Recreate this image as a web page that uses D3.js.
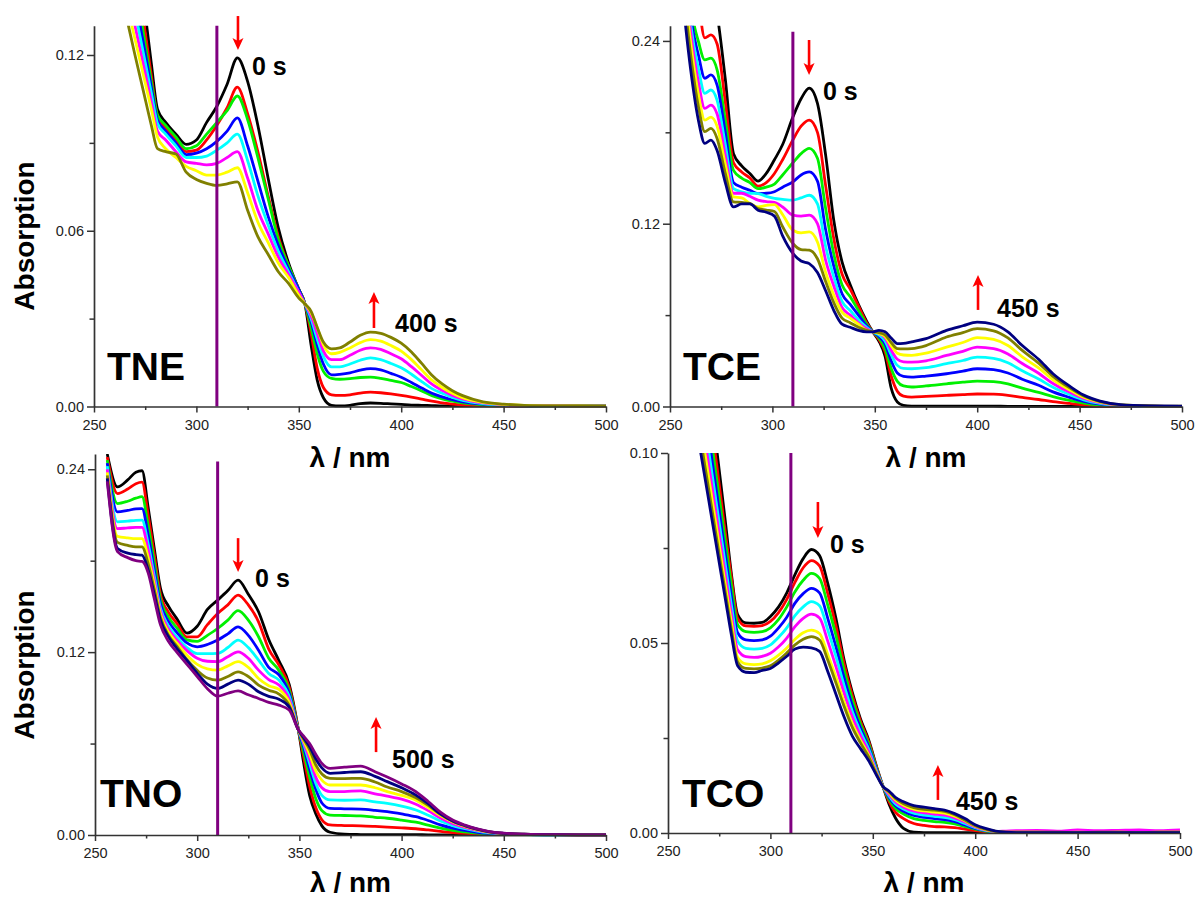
<!DOCTYPE html>
<html><head><meta charset="utf-8">
<script src="https://cdn.jsdelivr.net/npm/d3@7"></script>
<style>
html,body{margin:0;padding:0;background:#fff;}
svg{display:block;font-family:"Liberation Sans",Arial,Helvetica,sans-serif;}
</style></head><body>
<svg id="chart" width="1196" height="900"></svg>
<script>
// ---------------- DATA ----------------
const sampleNames = ["TNE", "TCE", "TNO", "TCO"];
const startLabels = ["0 s", "0 s", "0 s", "0 s"];
const endLabels = ["400 s", "450 s", "500 s", "450 s"];
const xMajorTicks = [250, 300, 350, 400, 450, 500];
const xMinorTicks = [275, 325, 375, 425, 475];
const irradiationNm = 310;

// TNE
const tneNm = [258,262,266,270,274,278,281,285,290,295,300,305,310,315,320,325,330,335,340,345,350,353,356,359,362,366,370,375,380,385,390,395,400,405,410,415,420,425,430,440,450,460,480,500];
const tneCurves = [
 [0.25,0.22,0.19,0.163,0.14,0.117,0.1015,0.097,0.093,0.0895,0.091,0.097,0.1025,0.110,0.119,0.111,0.096,0.078,0.061,0.049,0.040,0.035,0.021,0.009,0.003,0.0004,0.0002,0.0004,0.001,0.0012,0.0011,0.0009,0.0007,0.0005,0.0004,0.0003,0.0002,0.0002,0.0002,0.0002,0.0002,0.0002,0.0002,0.0002],
 [0.21,0.19,0.172,0.152,0.1325,0.113,0.099,0.095,0.091,0.087,0.0875,0.091,0.096,0.102,0.109,0.100,0.087,0.072,0.058,0.048,0.040,0.035,0.025,0.013,0.0065,0.004,0.0038,0.004,0.0046,0.0049,0.0047,0.0043,0.0038,0.0032,0.0025,0.0018,0.0012,0.0008,0.0005,0.0003,0.0002,0.0001,0.0001,0.0001],
 [0.20,0.18,0.162,0.145,0.128,0.111,0.0995,0.096,0.092,0.088,0.089,0.093,0.097,0.101,0.106,0.098,0.085,0.071,0.057,0.048,0.040,0.035,0.027,0.018,0.012,0.0096,0.0093,0.0095,0.0099,0.0100,0.0096,0.0089,0.0082,0.0068,0.0053,0.0037,0.0026,0.0018,0.0012,0.0006,0.0003,0.0002,0.0001,0.0001],
 [0.188,0.171,0.155,0.1395,0.1245,0.109,0.0978,0.094,0.090,0.086,0.0865,0.088,0.0905,0.094,0.0985,0.089,0.077,0.065,0.055,0.047,0.040,0.035,0.029,0.021,0.0145,0.0108,0.011,0.0115,0.0124,0.0129,0.0125,0.0113,0.0100,0.0082,0.0063,0.0045,0.0033,0.0023,0.0016,0.0008,0.0004,0.0002,0.0001,0.0001],
 [0.18,0.164,0.149,0.135,0.121,0.107,0.0966,0.093,0.089,0.085,0.085,0.0855,0.0875,0.090,0.093,0.084,0.072,0.062,0.053,0.046,0.039,0.035,0.030,0.023,0.017,0.0135,0.0135,0.0145,0.0158,0.0166,0.016,0.0147,0.0132,0.011,0.0085,0.0061,0.0045,0.0031,0.0021,0.001,0.0005,0.0003,0.0001,0.0001],
 [0.172,0.157,0.143,0.13,0.117,0.104,0.094,0.091,0.087,0.0835,0.083,0.0825,0.083,0.085,0.087,0.078,0.067,0.059,0.051,0.045,0.039,0.035,0.031,0.025,0.019,0.016,0.016,0.0175,0.0192,0.020,0.0195,0.018,0.0163,0.0136,0.0106,0.0076,0.0055,0.0038,0.0026,0.0012,0.0006,0.0003,0.0002,0.0001],
 [0.163,0.15,0.1375,0.1255,0.1135,0.1015,0.092,0.088,0.085,0.082,0.0805,0.079,0.079,0.080,0.0815,0.073,0.063,0.056,0.049,0.044,0.038,0.035,0.032,0.027,0.021,0.018,0.0185,0.020,0.0218,0.0228,0.0223,0.0208,0.0189,0.016,0.0125,0.009,0.0065,0.0045,0.003,0.0014,0.0007,0.0004,0.0002,0.0001],
 [0.158,0.145,0.1325,0.120,0.108,0.096,0.088,0.087,0.0862,0.080,0.0775,0.0762,0.0755,0.076,0.0767,0.067,0.058,0.052,0.046,0.042,0.037,0.035,0.0325,0.027,0.022,0.0197,0.020,0.022,0.0243,0.0254,0.025,0.0236,0.0216,0.0186,0.0147,0.0107,0.0077,0.0054,0.0037,0.0016,0.0008,0.0004,0.0002,0.0001]
];
const tneYTicks = [0, 0.06, 0.12];
const tneYMinor = [0.03, 0.09];

// TCE
const tceNm = [256,260,264,267,270,273,277,281,285,289,293,297,301,305,310,314,318,322,326,330,334,338,342,346,349,352,355,358,361,364,368,375,385,393,400,408,415,422,430,437,445,452,460,470,485,500];
const tceCurves = [
 [0.45,0.40,0.35,0.31,0.28,0.258,0.215,0.166,0.158,0.153,0.148,0.153,0.162,0.172,0.190,0.202,0.209,0.199,0.165,0.122,0.095,0.080,0.067,0.056,0.049,0.043,0.033,0.012,0.003,0.0008,0.0003,0.0002,0.0002,0.0002,0.0002,0.0002,0.0001,0.0001,0.0001,0.0001,0.0001,0.0001,0.0001,0.0001,0.0001,0.0001],
 [0.38,0.31,0.265,0.242,0.244,0.238,0.200,0.160,0.154,0.150,0.1447,0.147,0.153,0.162,0.175,0.184,0.188,0.180,0.145,0.110,0.087,0.077,0.066,0.055,0.049,0.044,0.036,0.020,0.010,0.0068,0.0062,0.0066,0.0073,0.0078,0.0082,0.0081,0.0073,0.006,0.0046,0.0032,0.002,0.0011,0.0005,0.0002,0.0001,0.0001],
 [0.33,0.265,0.239,0.2275,0.2287,0.221,0.188,0.155,0.150,0.147,0.143,0.144,0.146,0.152,0.160,0.166,0.1695,0.163,0.130,0.100,0.080,0.072,0.063,0.054,0.049,0.045,0.038,0.025,0.0165,0.0135,0.0128,0.0135,0.0149,0.016,0.0167,0.0163,0.0148,0.012,0.0093,0.0065,0.004,0.0023,0.001,0.0004,0.0001,0.0001],
 [0.32,0.258,0.230,0.2155,0.2177,0.211,0.180,0.147,0.144,0.142,0.1398,0.140,0.141,0.144,0.1475,0.152,0.154,0.148,0.116,0.092,0.074,0.067,0.060,0.053,0.049,0.046,0.041,0.030,0.022,0.0198,0.0193,0.020,0.0215,0.0232,0.0248,0.0242,0.022,0.0179,0.0139,0.0096,0.006,0.0034,0.0016,0.0005,0.0002,0.0001],
 [0.31,0.252,0.221,0.2056,0.2078,0.201,0.172,0.143,0.141,0.140,0.1398,0.138,0.1366,0.136,0.1355,0.137,0.1387,0.133,0.105,0.085,0.069,0.063,0.057,0.052,0.049,0.047,0.043,0.034,0.027,0.025,0.0248,0.0255,0.0281,0.0302,0.0324,0.0316,0.0287,0.0234,0.0181,0.0126,0.0079,0.0044,0.002,0.0007,0.0002,0.0001],
 [0.30,0.247,0.212,0.1957,0.1979,0.192,0.165,0.140,0.140,0.138,0.1355,0.1345,0.134,0.131,0.1256,0.125,0.1256,0.120,0.096,0.079,0.065,0.060,0.055,0.051,0.049,0.048,0.045,0.037,0.031,0.0293,0.0291,0.030,0.0335,0.0362,0.039,0.038,0.0345,0.0282,0.0218,0.0151,0.0095,0.0053,0.0025,0.0008,0.0003,0.0001],
 [0.29,0.24,0.204,0.188,0.190,0.184,0.159,0.1376,0.137,0.1333,0.131,0.132,0.1325,0.126,0.1157,0.114,0.1146,0.108,0.088,0.073,0.062,0.058,0.054,0.050,0.049,0.048,0.046,0.040,0.035,0.0338,0.0336,0.035,0.039,0.042,0.0452,0.044,0.040,0.0326,0.0253,0.0175,0.011,0.0061,0.0029,0.001,0.0003,0.0001],
 [0.28,0.232,0.196,0.1804,0.1826,0.176,0.153,0.1343,0.134,0.1333,0.130,0.129,0.128,0.118,0.107,0.103,0.1026,0.097,0.082,0.068,0.058,0.055,0.052,0.050,0.049,0.0485,0.047,0.042,0.038,0.0378,0.038,0.040,0.0456,0.0485,0.0511,0.0497,0.045,0.0368,0.0285,0.0198,0.0124,0.0069,0.0032,0.0011,0.0004,0.0002],
 [0.27,0.222,0.187,0.1727,0.1749,0.168,0.147,0.131,0.133,0.133,0.1289,0.1275,0.125,0.112,0.1005,0.0955,0.0938,0.088,0.076,0.063,0.054,0.052,0.050,0.049,0.049,0.050,0.049,0.045,0.0413,0.0415,0.0425,0.0445,0.050,0.053,0.0554,0.054,0.049,0.040,0.031,0.0215,0.0135,0.0075,0.0035,0.0012,0.0004,0.0002]
];
const tceYTicks = [0, 0.12, 0.24];
const tceYMinor = [0.06, 0.18];

// TNO
const tnoNm = [256,261,266,270,273,276,279,282,286,290,295,300,305,310,315,320,325,330,335,340,345,349.5,352,355,358,361,365,372,380,387,393,400,407,413,419,425,431,437,443,450,460,475,500];
const tnoCurves = [
 [0.250,0.2284,0.233,0.238,0.239,0.215,0.188,0.162,0.150,0.142,0.1325,0.137,0.148,0.1541,0.1604,0.1672,0.158,0.1465,0.1283,0.1143,0.0988,0.069,0.048,0.026,0.014,0.006,0.0018,0.0005,0.0003,0.0002,0.0002,0.0002,0.0002,0.0001,0.0001,0.0001,0.0001,0.0001,0.0001,0.0001,0.0001,0.0001,0.0001],
 [0.248,0.224,0.227,0.2305,0.2315,0.210,0.184,0.158,0.146,0.139,0.130,0.130,0.138,0.1454,0.151,0.1574,0.151,0.1399,0.122,0.1115,0.097,0.069,0.052,0.032,0.018,0.010,0.0066,0.0062,0.006,0.0056,0.0052,0.0047,0.0041,0.0033,0.0024,0.0016,0.001,0.0006,0.0004,0.0003,0.0002,0.0001,0.0001],
 [0.246,0.2175,0.219,0.221,0.222,0.203,0.179,0.155,0.143,0.136,0.128,0.127,0.131,0.1355,0.141,0.1472,0.141,0.1301,0.116,0.108,0.095,0.069,0.055,0.038,0.024,0.016,0.0131,0.0128,0.0125,0.0116,0.011,0.0098,0.0084,0.0065,0.0045,0.003,0.002,0.0012,0.0007,0.0004,0.0002,0.0001,0.0001],
 [0.244,0.212,0.213,0.214,0.2142,0.197,0.174,0.152,0.140,0.133,0.126,0.1235,0.125,0.1279,0.132,0.1366,0.131,0.1213,0.110,0.105,0.093,0.069,0.058,0.043,0.030,0.021,0.0175,0.0172,0.017,0.0162,0.0153,0.0138,0.012,0.0095,0.0066,0.0045,0.003,0.0018,0.001,0.0005,0.0003,0.0001,0.0001],
 [0.242,0.2055,0.206,0.2065,0.2066,0.191,0.170,0.149,0.137,0.130,0.123,0.119,0.119,0.1192,0.123,0.1279,0.123,0.1148,0.106,0.1016,0.091,0.069,0.060,0.047,0.034,0.026,0.023,0.0228,0.023,0.0218,0.0208,0.019,0.0164,0.013,0.0092,0.0062,0.0041,0.0025,0.0014,0.0007,0.0003,0.0001,0.0001],
 [0.240,0.201,0.2015,0.2018,0.2018,0.187,0.167,0.147,0.135,0.128,0.121,0.116,0.114,0.1137,0.117,0.1202,0.116,0.1082,0.102,0.0984,0.089,0.069,0.061,0.050,0.038,0.031,0.0284,0.0285,0.029,0.027,0.0255,0.0235,0.0202,0.016,0.0112,0.0075,0.005,0.003,0.0017,0.0008,0.0004,0.0002,0.0001],
 [0.238,0.196,0.195,0.1945,0.1945,0.182,0.164,0.145,0.133,0.126,0.118,0.112,0.109,0.1082,0.111,0.1137,0.110,0.1027,0.098,0.0955,0.087,0.069,0.062,0.053,0.042,0.036,0.0328,0.0328,0.0328,0.031,0.0285,0.026,0.0228,0.018,0.0127,0.0085,0.0056,0.0034,0.0019,0.0009,0.0004,0.0002,0.0001],
 [0.236,0.192,0.190,0.189,0.189,0.178,0.161,0.143,0.131,0.124,0.115,0.108,0.103,0.1016,0.104,0.1071,0.104,0.0984,0.095,0.0925,0.085,0.069,0.063,0.056,0.046,0.040,0.0372,0.037,0.0372,0.0348,0.0315,0.0285,0.0244,0.0195,0.0135,0.009,0.006,0.0037,0.002,0.001,0.0005,0.0002,0.0001],
 [0.234,0.188,0.185,0.184,0.1836,0.174,0.158,0.141,0.130,0.1225,0.1145,0.106,0.099,0.0962,0.099,0.1016,0.099,0.094,0.091,0.089,0.084,0.069,0.064,0.058,0.050,0.044,0.0405,0.041,0.0415,0.0385,0.035,0.031,0.0262,0.0205,0.0138,0.0092,0.0062,0.0038,0.0021,0.0011,0.0005,0.0002,0.0001],
 [0.232,0.186,0.182,0.180,0.1795,0.172,0.155,0.138,0.127,0.120,0.112,0.104,0.096,0.0911,0.093,0.0946,0.092,0.0896,0.087,0.0852,0.082,0.069,0.065,0.060,0.053,0.047,0.0437,0.0445,0.0452,0.0415,0.038,0.0335,0.0284,0.022,0.015,0.0098,0.0065,0.004,0.0022,0.0012,0.0005,0.0002,0.0001]
];
const tnoYTicks = [0, 0.12, 0.24];
const tnoYMinor = [0.06, 0.18];

// TCO
const tcoNm = [262,266,270,274,278,281,284,288,292,296,300,304,308,312,316,320,324,328,332,336,340,344,348,352,355,358,361,365,370,375,380,385,390,395,400,405,410,415,420,430,440,450,460,470,480,490,500];
const tcoCurves = [
 [0.153,0.1355,0.118,0.100,0.082,0.068,0.0575,0.0553,0.0552,0.0554,0.057,0.0595,0.0632,0.068,0.0722,0.0746,0.073,0.0657,0.0565,0.0455,0.037,0.030,0.0245,0.0172,0.0122,0.0075,0.004,0.0012,0.0002,0.0001,0.0001,0.0001,0.0001,0.0001,0.0001,0.0001,0.0001,0.0001,0.0001,0.0001,0.0001,0.0001,0.0001,0.0001,0.0001,0.0001,0.0001],
 [0.1455,0.129,0.1124,0.096,0.079,0.067,0.0565,0.0545,0.0544,0.0546,0.0557,0.058,0.0615,0.066,0.0698,0.0717,0.0703,0.063,0.0545,0.0445,0.0362,0.0294,0.024,0.017,0.0122,0.0082,0.0055,0.0038,0.0025,0.002,0.0017,0.0016,0.0014,0.001,0.0006,0.0003,0.0002,0.0001,0.0002,0.0003,0.0002,0.0003,0.0002,0.0003,0.0002,0.0003,0.0003],
 [0.139,0.1234,0.1078,0.0922,0.0766,0.065,0.0548,0.053,0.0528,0.053,0.054,0.0562,0.0595,0.0635,0.0665,0.0683,0.067,0.060,0.052,0.0428,0.035,0.0286,0.0234,0.0167,0.0122,0.0088,0.0065,0.005,0.0038,0.0033,0.003,0.0028,0.0024,0.0017,0.001,0.0005,0.0002,0.0001,0.0001,0.0001,0.0001,0.0001,0.0001,0.0001,0.0001,0.0001,0.0001],
 [0.134,0.119,0.1038,0.0886,0.0734,0.0622,0.0527,0.0508,0.0506,0.0508,0.0518,0.054,0.0568,0.0605,0.063,0.0644,0.0632,0.0565,0.049,0.0408,0.0335,0.0276,0.0227,0.0164,0.0122,0.0093,0.0072,0.0057,0.0046,0.0041,0.0038,0.0035,0.003,0.0021,0.0012,0.0006,0.0003,0.0001,0.0001,0.0001,0.0001,0.0001,0.0001,0.0001,0.0001,0.0001,0.0001],
 [0.1294,0.1147,0.100,0.0853,0.0706,0.0598,0.0505,0.0486,0.0484,0.0486,0.0495,0.0515,0.054,0.0572,0.0595,0.0609,0.0598,0.0535,0.0465,0.0388,0.032,0.0266,0.022,0.0161,0.0122,0.0097,0.0077,0.0063,0.0052,0.0047,0.0044,0.0041,0.0035,0.0025,0.0014,0.0007,0.0003,0.0002,0.0001,0.0002,0.0001,0.0002,0.0001,0.0002,0.0001,0.0002,0.0002],
 [0.125,0.1107,0.0964,0.0822,0.0679,0.0575,0.0482,0.0464,0.0462,0.0465,0.0473,0.049,0.0513,0.0543,0.0565,0.0576,0.0566,0.0505,0.0438,0.0368,0.0305,0.0256,0.0213,0.0158,0.0122,0.0101,0.0082,0.0068,0.0058,0.0053,0.005,0.0047,0.004,0.0029,0.0016,0.0008,0.0004,0.0005,0.0006,0.0007,0.0005,0.0008,0.0006,0.0007,0.0008,0.0006,0.0008],
 [0.1208,0.107,0.0931,0.0792,0.0653,0.0553,0.0462,0.0445,0.0443,0.0445,0.0453,0.0468,0.0487,0.051,0.0527,0.0534,0.0525,0.047,0.041,0.0345,0.0288,0.0244,0.0205,0.0155,0.0122,0.0105,0.0087,0.0073,0.0063,0.0058,0.0055,0.0052,0.0044,0.0032,0.0018,0.0009,0.0004,0.0002,0.0002,0.0002,0.0001,0.0002,0.0001,0.0002,0.0001,0.0002,0.0002],
 [0.1167,0.1033,0.09,0.0766,0.0633,0.0535,0.045,0.0433,0.0432,0.0434,0.044,0.0455,0.0474,0.0495,0.051,0.0517,0.0508,0.0455,0.0395,0.0333,0.0278,0.0237,0.02,0.0153,0.0122,0.0108,0.0091,0.0077,0.0067,0.0062,0.006,0.0057,0.0048,0.0034,0.0019,0.001,0.0004,0.0002,0.0002,0.0002,0.0002,0.0001,0.0002,0.0002,0.0001,0.0002,0.0002],
 [0.1128,0.100,0.0872,0.0744,0.0616,0.052,0.044,0.0423,0.0422,0.0428,0.0433,0.0448,0.0465,0.0484,0.0489,0.0487,0.0478,0.0425,0.0365,0.0305,0.0255,0.0222,0.019,0.015,0.0122,0.011,0.0094,0.0082,0.0072,0.0068,0.0064,0.006,0.0051,0.0038,0.0022,0.0012,0.0005,0.0002,0.0001,0.0001,0.0001,0.0001,0.0001,0.0001,0.0001,0.0001,0.0001]
];
const tcoYTicks = [0, 0.05, 0.10];
const tcoYMinor = [0.025, 0.075];

// ---------------- STYLE / LAYOUT ----------------
const seriesColors = ["#000000","#ff0000","#00f000","#0000ff","#00ffff","#ff00ff","#ffff00","#808000","#000080","#800080"];
const FONT = '"Liberation Sans", Arial, Helvetica, sans-serif';

const panels = [
  { nm: tneNm, curves: tneCurves, yMax: 0.13, yTicks: tneYTicks, yMinor: tneYMinor,
    box: {left: 94, right: 606, bottom: 406.5, top: 25.7}, markTop: 0.13,
    yTitle: 236, xTitleBase: 467,
    zero: [327.1, 0.1132], end: [397.0, 0.0254], name: [256.3, 0.009],
    down: [320.3, 0.1333, 0.1217], up: [386.7, 0.0268, 0.0391] },
  { nm: tceNm, curves: tceCurves, yMax: 0.25, yTicks: tceYTicks, yMinor: tceYMinor,
    box: {left: 670, right: 1182, bottom: 406.5, top: 25.7}, markTop: 0.246,
    yTitle: null, xTitleBase: 467,
    zero: [324.7, 0.2012], end: [409.7, 0.0588], name: [256.3, 0.0174],
    down: [317.9, 0.2406, 0.2177], up: [400.4, 0.0634, 0.0863] },
  { nm: tnoNm, curves: tnoCurves, yMax: 0.25, yTicks: tnoYTicks, yMinor: tnoYMinor,
    box: {left: 95, right: 606, bottom: 835, top: 454}, markTop: 0.245,
    yTitle: 665, xTitleBase: 892,
    zero: [328.3, 0.1626], end: [395.3, 0.0439], name: [252.4, 0.0184],
    down: [320.0, 0.1948, 0.1725], up: [387.5, 0.0544, 0.0774] },
  { nm: tcoNm, curves: tcoCurves, yMax: 0.10, yTicks: tcoYTicks, yMinor: tcoYMinor,
    box: {left: 668, right: 1180, bottom: 833, top: 453}, markTop: 0.10,
    yTitle: null, xTitleBase: 892,
    zero: [329.1, 0.0737], end: [390.6, 0.0061], name: [256.8, 0.0068],
    down: [323.2, 0.0871, 0.0776], up: [381.8, 0.0087, 0.0179] }
];

const svg = d3.select("#chart");
svg.append("rect").attr("width",1196).attr("height",900).attr("fill","#fff");

function arrow(g, x, y, xv, fromV, toV) {
  const xp = x(xv), y1 = y(fromV), y2 = y(toV);
  const dir = Math.sign(y2 - y1);
  const headLen = 12, headW = 5.5;
  g.append("line").attr("x1", xp).attr("x2", xp).attr("y1", y1).attr("y2", y2 - dir*headLen*0.6)
    .attr("stroke", "#ff0000").attr("stroke-width", 2.6);
  g.append("path")
    .attr("d", `M${xp},${y2} L${xp-headW},${y2-dir*headLen} L${xp},${y2-dir*headLen*0.75} L${xp+headW},${y2-dir*headLen} Z`)
    .attr("fill", "#ff0000");
}

panels.forEach((p, i) => {
  const b = p.box;
  const x = d3.scaleLinear().domain([250, 500]).range([b.left, b.right]);
  const y = d3.scaleLinear().domain([0, p.yMax]).range([b.bottom, b.top]);
  const g = svg.append("g");

  const clipId = "clip" + i;
  svg.append("defs").append("clipPath").attr("id", clipId)
    .append("rect").attr("x", b.left).attr("y", b.top)
    .attr("width", b.right - b.left + 2).attr("height", b.bottom - b.top + 2);

  // curves
  const line = d3.line().x(d => x(d[0])).y(d => y(d[1])).curve(d3.curveMonotoneX);
  const cg = g.append("g").attr("clip-path", `url(#${clipId})`);
  p.curves.forEach((vals, k) => {
    const pts = p.nm.map((w, j) => [w, vals[j]]);
    cg.append("path").datum(pts).attr("d", line)
      .attr("fill", "none").attr("stroke", seriesColors[k])
      .attr("stroke-width", 2.8).attr("stroke-linejoin", "round");
  });

  // irradiation wavelength marker
  g.append("line").attr("x1", x(irradiationNm)).attr("x2", x(irradiationNm))
    .attr("y1", y(0)).attr("y2", y(p.markTop))
    .attr("stroke", "#800080").attr("stroke-width", 3);

  // axes
  const gx = g.append("g").attr("transform", `translate(0,${b.bottom})`);
  gx.call(d3.axisBottom(x).tickValues(xMajorTicks).tickSize(6).tickPadding(7)
    .tickSizeOuter(0).tickFormat(d3.format("d")));
  const gxm = g.append("g").attr("transform", `translate(0,${b.bottom})`);
  gxm.call(d3.axisBottom(x).tickValues(xMinorTicks).tickSize(3.5).tickFormat(""));
  gxm.select(".domain").remove();

  const gy = g.append("g").attr("transform", `translate(${b.left},0)`);
  gy.call(d3.axisLeft(y).tickValues(p.yTicks).tickSize(7).tickPadding(3)
    .tickSizeOuter(0).tickFormat(d3.format(".2f")));
  const gym = g.append("g").attr("transform", `translate(${b.left},0)`);
  gym.call(d3.axisLeft(y).tickValues(p.yMinor).tickSize(4.5).tickFormat(""));
  gym.select(".domain").remove();

  [gx, gxm, gy, gym].forEach(a => {
    a.attr("font-family", FONT).attr("font-size", 14.5);
    a.selectAll(".domain").attr("stroke", "#333").attr("stroke-width", 1.7);
    a.selectAll(".tick line").attr("stroke", "#333").attr("stroke-width", 1.5);
    a.selectAll(".tick text").attr("fill", "#222");
  });

  // titles
  if (p.yTitle !== null) {
    g.append("text").attr("transform", `translate(34,${p.yTitle}) rotate(-90)`)
      .attr("text-anchor", "middle").attr("font-family", FONT)
      .attr("font-weight", "bold").attr("font-size", 28).attr("fill", "#000")
      .text("Absorption");
  }
  g.append("text").attr("x", (b.left + b.right) / 2).attr("y", p.xTitleBase)
    .attr("text-anchor", "middle").attr("font-family", FONT)
    .attr("font-weight", "bold").attr("font-size", 28).attr("fill", "#000")
    .text("λ / nm");

  // annotations
  g.append("text").attr("x", x(p.name[0])).attr("y", y(p.name[1]))
    .attr("font-family", FONT).attr("font-weight", "bold").attr("font-size", 39)
    .attr("fill", "#000").text(sampleNames[i]);
  g.append("text").attr("x", x(p.zero[0])).attr("y", y(p.zero[1]))
    .attr("font-family", FONT).attr("font-weight", "bold").attr("font-size", 25)
    .attr("fill", "#000").text(startLabels[i]);
  g.append("text").attr("x", x(p.end[0])).attr("y", y(p.end[1]))
    .attr("font-family", FONT).attr("font-weight", "bold").attr("font-size", 25)
    .attr("fill", "#000").text(endLabels[i]);
  arrow(g, x, y, p.down[0], p.down[1], p.down[2]);
  arrow(g, x, y, p.up[0], p.up[1], p.up[2]);
});
</script>
</body></html>
